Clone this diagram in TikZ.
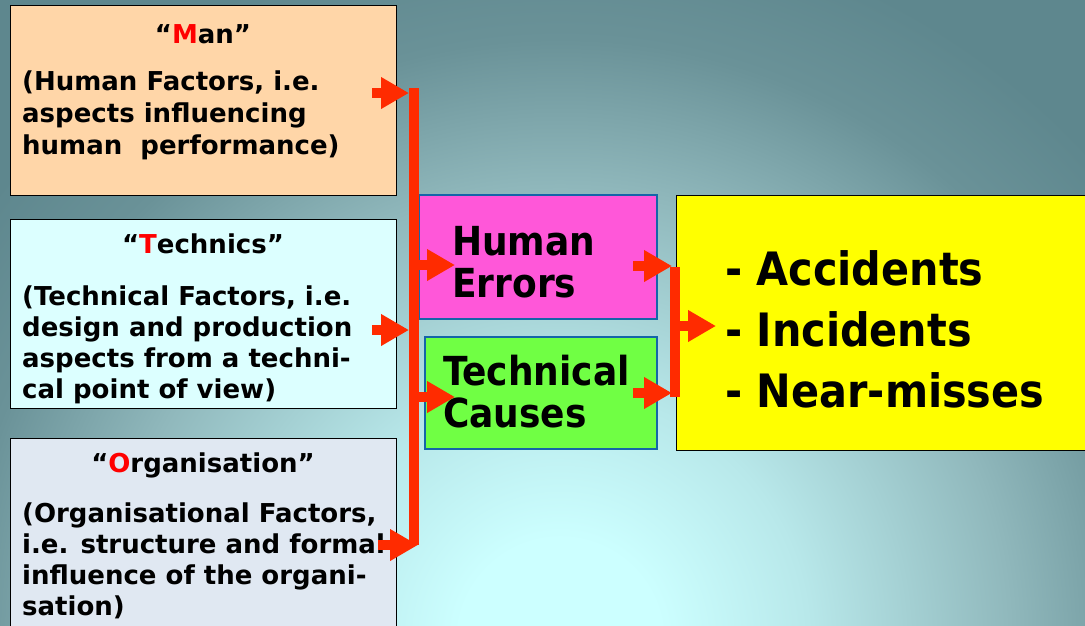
\documentclass[tikz,border=0pt]{standalone}
\usepackage{fontspec}
\setmainfont{DejaVu Sans}
\newfontfamily\condf{DejaVu Sans Condensed}
\usetikzlibrary{arrows.meta,calc}
\definecolor{bgA}{HTML}{CCFFFF}
\definecolor{bgB}{HTML}{B8E8EA}
\definecolor{bgC}{HTML}{90B8BC}
\definecolor{bgD}{HTML}{6A9298}
\definecolor{bgE}{HTML}{5E878E}
\definecolor{manfill}{HTML}{FFD6A8}
\definecolor{techfill}{HTML}{DCFFFF}
\definecolor{orgfill}{HTML}{E0E8F2}
\definecolor{hefill}{HTML}{FF57D9}
\definecolor{tcfill}{HTML}{70FF44}
\definecolor{resfill}{HTML}{FFFF00}
\definecolor{bblue}{HTML}{1565A8}
\definecolor{arrred}{HTML}{FF2B00}
\definecolor{letred}{HTML}{FF0000}
\pgfdeclareradialshading{bgshade}{\pgfpoint{0bp}{0bp}}{color(0bp)=(bgA); color(2.8bp)=(bgA); color(6.9bp)=(bgB); color(12.5bp)=(bgC); color(16.7bp)=(bgD); color(20bp)=(bgE); color(50bp)=(bgE)}
\begin{document}
\begin{tikzpicture}[x=1pt,y=-1pt,
  lbox/.style={draw=black, line width=1pt, anchor=north west, inner sep=0pt, outer sep=0pt},
  cbox/.style={draw=bblue, line width=2pt, anchor=north west, inner sep=0pt, outer sep=0pt},
  titletxt/.style={font=\fontsize{26}{32}\selectfont\bfseries, inner sep=0pt, anchor=base},
  bodytxt/.style={font=\fontsize{26}{32}\selectfont\bfseries, align=left, inner sep=0pt, anchor=base west},
  midtxt/.style={font=\condf\fontsize{40}{42}\selectfont\bfseries, align=left, inner sep=0pt, anchor=base west},
  restxt/.style={font=\condf\fontsize{46}{61}\selectfont\bfseries, align=left, inner sep=0pt, anchor=base west},
  bar/.style={draw=arrred, line width=10pt},
  rarr/.style={draw=arrred, line width=10pt, -{Triangle[length=28pt,width=30pt]}}
]
\useasboundingbox (0,0) rectangle (1085,625);
\begin{scope}
\clip (0,0) rectangle (1085,625);
\fill[bgE] (0,0) rectangle (1085,625);
\shade[shading=bgshade] (560,640) circle (900);
\end{scope}

% boxes
\node[lbox, fill=manfill, minimum width=386, minimum height=190] (man) at (10,5) {};
\node[lbox, fill=techfill, minimum width=386, minimum height=189] (tech) at (10,219) {};
\node[lbox, fill=orgfill, minimum width=386, minimum height=200] (org) at (10,438) {};
\node[cbox, fill=hefill, minimum width=238, minimum height=124] (he) at (419,195) {};
\node[cbox, fill=tcfill, minimum width=232, minimum height=112] (tc) at (425,337) {};
\node[lbox, fill=resfill, minimum width=420, minimum height=255] (res) at (676,195) {};

% texts
\node[titletxt] (mant) at (203,43) {“\textcolor{letred}{M}an”};
\node[bodytxt] (manb) at (22,154) {(Human Factors, i.e.\\aspects influencing\\human\ \ performance)};
\node[titletxt] (techt) at (203,253) {“\textcolor{letred}{T}echnics”};
\node[bodytxt, font=\fontsize{26}{31}\selectfont\bfseries] (techb) at (22,398) {(Technical Factors, i.e.\\design and production\\aspects from a techni-\\cal point of view)};
\node[titletxt] (orgt) at (203,472) {“\textcolor{letred}{O}rganisation”};
\node[bodytxt, font=\fontsize{26}{31}\selectfont\bfseries] (orgb) at (22,615) {(Organisational Factors,\\i.e. structure and formal\\influence of the organi-\\sation)};
\node[midtxt] (het) at (452,297) {Human\\Errors};
\node[midtxt] (tct) at (443,427) {Technical\\Causes};
\node[restxt] (rest) at (725,407) {- Accidents\\- Incidents\\- Near-misses};

% connector points
\coordinate (b1t) at (413.5,88);
\coordinate (b1b) at (413.5,545);
\coordinate (b2t) at (675,267);
\coordinate (b2b) at (675,397);
\coordinate (m1) at (372,93);
\coordinate (t1) at (372,330);
\coordinate (o1) at (378,545);
\coordinate (h1) at (418,265);
\coordinate (c1) at (418,397);
\coordinate (h2) at (633,266);
\coordinate (c2) at (633,393);
\coordinate (r1) at (680,326);

\draw[bar] (b1t) -- (b1b);
\draw[bar] (b2t) -- (b2b);
\draw[rarr] (m1) -- ($(b1t |- m1)+(-4.5,0)$);
\draw[rarr] (t1) -- ($(b1t |- t1)+(-4.5,0)$);
\draw[rarr] (o1) -- ($(b1b)+(4.5,0)$);
\draw[rarr] (h1) -- ($(he.west |- h1)+(36,0)$);
\draw[rarr] (c1) -- ($(he.west |- c1)+(36,0)$);
\draw[rarr] (h2) -- ($(b2t |- h2)+(-3,0)$);
\draw[rarr] (c2) -- ($(b2t |- c2)+(-3,0)$);
\draw[rarr] (r1) -- ($(res.west |- r1)+(40,0)$);
\end{tikzpicture}
\end{document}
